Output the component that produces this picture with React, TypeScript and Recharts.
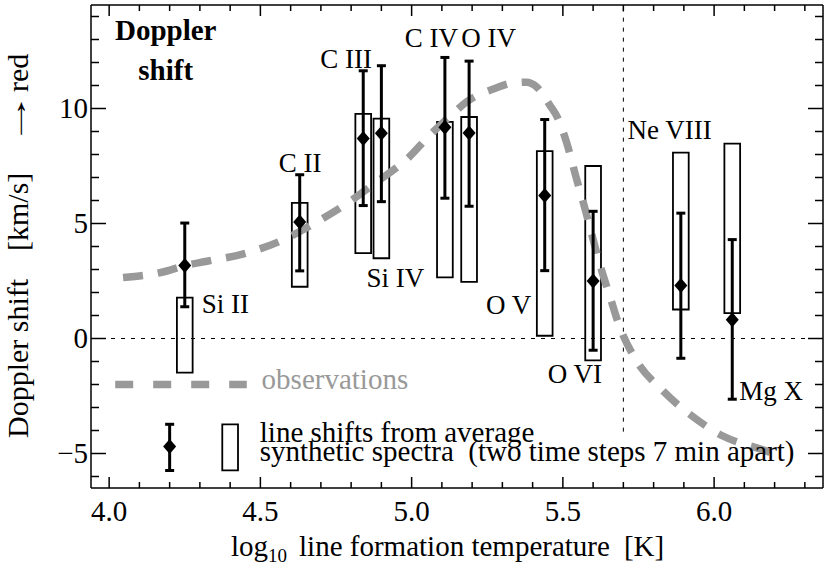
import React from 'react';
import {
  ComposedChart,
  XAxis,
  YAxis,
  Scatter,
  Line,
  ErrorBar,
  ReferenceArea,
  ReferenceLine,
} from 'recharts';

const FONT = '"Liberation Serif", "Times New Roman", Times, serif';

// ---- line data -------------------------------------------------------
const lineNames = ['Si II', 'C II', 'C III', 'Si IV', 'C IV', 'O IV', 'O V', 'O VI', 'Ne VIII', 'Mg X'];
const logT = [4.25, 4.63, 4.84, 4.9, 5.11, 5.19, 5.44, 5.6, 5.89, 6.06];
const shiftAvg = [3.17, 5.06, 8.7, 8.92, 9.18, 8.93, 6.22, 2.5, 2.3, 0.81];
const shiftLow = [1.38, 2.94, 5.78, 5.95, 6.1, 5.75, 2.95, -0.51, -0.86, -2.64];
const shiftHigh = [5.02, 7.12, 11.64, 11.86, 12.22, 12.06, 9.52, 5.53, 5.45, 4.3];
const synthLow = [-1.48, 2.25, 3.71, 3.49, 2.66, 2.46, 0.12, -0.95, 1.26, 1.1];
const synthHigh = [1.78, 5.9, 9.77, 9.56, 9.42, 9.63, 8.15, 7.5, 8.08, 8.47];

// label anchor (left / baseline) in data units
const labelT = [4.306, 4.561, 4.698, 4.851, 4.977, 5.164, 5.246, 5.45, 5.714, 6.083];
const labelV = [1.13, 7.24, 11.74, 2.25, 12.69, 12.69, 1.06, -1.92, 8.69, -2.67];

// ---- observations curve ---------------------------------------------
const obsT = [4.046, 4.174, 4.251, 4.323, 4.444, 4.565, 4.686, 4.785, 4.884, 4.983, 5.06, 5.137, 5.182, 5.275, 5.34, 5.38, 5.413, 5.457, 5.484, 5.512, 5.545, 5.572, 5.598, 5.625, 5.655, 5.688, 5.737, 5.831, 5.92, 6.029, 6.156, 6.19];
const obsV = [2.65, 2.88, 3.17, 3.36, 3.68, 4.23, 5.06, 5.86, 6.8, 7.78, 8.84, 9.78, 10.29, 10.87, 11.12, 11.14, 10.94, 10.14, 9.56, 8.54, 6.95, 5.7, 4.4, 3.1, 1.85, 0.5, -0.83, -2.28, -3.3, -4.24, -4.82, -4.97];

// ---- legend ----------------------------------------------------------
const legendObsT = [4.02, 4.455];
const legendObsV = [-2.0, -2.0];
const legendDiamond = { t: 4.2, v: -4.7, low: -5.74, high: -3.73 };
const legendBox = { t: 4.4, low: -5.73, high: -3.73 };
const legendTexts = ['observations', 'line shifts from average', 'synthetic spectra  (two time steps 7 min apart)'];
const legendTextT = [4.504, 4.498, 4.498];
const legendTextV = [-2.2, -4.5, -5.31];
const titleLines = ['Doppler', 'shift'];
const titleT = [4.187, 4.187];
const titleV = [12.98, 11.24];

// ---- axes ------------------------------------------------------------
const xDomain = [3.94, 6.36];
const yDomain = [-6.5, 14.5];
const xTicks = [4.0, 4.1, 4.2, 4.3, 4.4, 4.5, 4.6, 4.7, 4.8, 4.9, 5.0, 5.1, 5.2, 5.3, 5.4, 5.5, 5.6, 5.7, 5.8, 5.9, 6.0, 6.1, 6.2, 6.3];
const yTicks = [-6, -5, -4, -3, -2, -1, 0, 1, 2, 3, 4, 5, 6, 7, 8, 9, 10, 11, 12, 13, 14];
const transitionT = 5.7;
const transitionBottom = -4.05;

const BOX_HALF = 0.026;

const isMajor = (v: number, step: number) => Math.abs(v / step - Math.round(v / step)) < 1e-6;
const fmtY = (v: number) => (v < 0 ? '\u2212' + Math.abs(v) : String(v));

// ---- derived tables ---------------------------------------------------
const points = lineNames.map((n, i) => ({
  x: logT[i],
  y: shiftAvg[i],
  err: [shiftAvg[i] - shiftLow[i], shiftHigh[i] - shiftAvg[i]],
}));
const legendPoint = [
  {
    x: legendDiamond.t,
    y: legendDiamond.v,
    err: [legendDiamond.v - legendDiamond.low, legendDiamond.high - legendDiamond.v],
  },
];
const obsData = obsT.map((t, i) => ({ x: t, y: obsV[i] }));
const legendObsData = legendObsT.map((t, i) => ({ x: t, y: legendObsV[i] }));

const labels = [
  ...lineNames.map((n, i) => ({ x: labelT[i], y: labelV[i], text: n, kind: 'line' })),
  ...legendTexts.map((s, i) => ({ x: legendTextT[i], y: legendTextV[i], text: s, kind: i === 0 ? 'obs' : 'legend' })),
  ...titleLines.map((s, i) => ({ x: titleT[i], y: titleV[i], text: s, kind: 'title' })),
];

// ---- shapes ------------------------------------------------------------
const Diamond = (p: any) => {
  const { cx, cy } = p;
  if (cx == null || cy == null) return null;
  return (
    <polygon
      points={`${cx},${cy - 7.5} ${cx + 6.5},${cy} ${cx},${cy + 7.5} ${cx - 6.5},${cy}`}
      fill="#000"
    />
  );
};

const TextShape = (p: any) => {
  const d = p.payload;
  if (p.cx == null) return null;
  const isTitle = d.kind === 'title';
  const isLine = d.kind === 'line';
  return (
    <text
      x={p.cx}
      y={p.cy}
      textAnchor={isTitle ? 'middle' : 'start'}
      fontFamily={FONT}
      fontSize={isLine ? 27 : 29}
      fontWeight={isTitle ? 'bold' : 'normal'}
      fill={d.kind === 'obs' ? '#999999' : '#000'}
      style={{ whiteSpace: 'pre' }}
    >
      {d.text}
    </text>
  );
};

// ---- ticks -------------------------------------------------------------
const BottomTick = (p: any) => {
  const { x, y, payload } = p;
  const v = payload.value;
  const major = isMajor(v, 0.5);
  return (
    <g>
      <line x1={x} x2={x} y1={y} y2={y - (major ? 11 : 6)} stroke="#000" strokeWidth={1.5} />
      {major && (
        <text x={x} y={y + 33} textAnchor="middle" fontFamily={FONT} fontSize={29} fill="#000">
          {v.toFixed(1)}
        </text>
      )}
    </g>
  );
};

const TopTick = (p: any) => {
  const { x, y, payload } = p;
  const major = isMajor(payload.value, 0.5);
  return <line x1={x} x2={x} y1={y} y2={y + (major ? 11 : 6)} stroke="#000" strokeWidth={1.5} />;
};

const LeftTick = (p: any) => {
  const { x, y, payload } = p;
  const v = payload.value;
  const major = isMajor(v, 5);
  return (
    <g>
      <line x1={x} x2={x + (major ? 15 : 8)} y1={y} y2={y} stroke="#000" strokeWidth={1.5} />
      {major && (
        <text x={x - 3} y={y + 9.5} textAnchor="end" fontFamily={FONT} fontSize={29} fill="#000">
          {fmtY(v)}
        </text>
      )}
    </g>
  );
};

const RightTick = (p: any) => {
  const { x, y, payload } = p;
  const major = isMajor(payload.value, 5);
  return <line x1={x} x2={x - (major ? 15 : 8)} y1={y} y2={y} stroke="#000" strokeWidth={1.5} />;
};

// ---- axis titles -------------------------------------------------------
const XTitle = () => (
  <text x={231} y={556} textAnchor="start" fontFamily={FONT} fontSize={29} fill="#000">
    log
    <tspan fontSize={19} dy={6}>
      10
    </tspan>
    <tspan dy={-6} dx={12}>
      line formation temperature
    </tspan>
    <tspan dx={14}>[K]</tspan>
  </text>
);

const YTitle = () => (
  <g fontFamily={FONT} fontSize={30} fill="#000">
    <text transform="translate(28,438) rotate(-90)" textAnchor="start">
      Doppler shift
    </text>
    <text transform="translate(28,251) rotate(-90)" textAnchor="start">
      [km/s]
    </text>
    <text transform="translate(26,146) rotate(-90) scale(1.9,1)" textAnchor="start" fontSize={29}>
      {'\u2192'}
    </text>
    <text transform="translate(28,92) rotate(-90)" textAnchor="start">
      red
    </text>
  </g>
);

export default function App() {
  return (
    <div style={{ position: 'absolute', left: 0, top: 0, width: 830, height: 567, background: '#fff' }}>
      <ComposedChart width={830} height={567} margin={{ top: 0, right: 0, bottom: 0, left: 0 }}>
        <XAxis
          type="number"
          dataKey="x"
          domain={xDomain}
          ticks={xTicks}
          interval={0}
          allowDataOverflow
          height={79}
          tickSize={0}
          tickMargin={0}
          tickLine={false}
          axisLine={{ stroke: '#000', strokeWidth: 1.5 }}
          tick={(p: any) => <BottomTick {...p} />}
          label={<XTitle />}
        />
        <XAxis
          xAxisId="top"
          orientation="top"
          type="number"
          dataKey="x"
          domain={xDomain}
          ticks={xTicks}
          interval={0}
          allowDataOverflow
          height={5}
          tickSize={0}
          tickMargin={0}
          tickLine={false}
          axisLine={{ stroke: '#000', strokeWidth: 1.5 }}
          tick={(p: any) => <TopTick {...p} />}
        />
        <YAxis
          type="number"
          domain={yDomain}
          ticks={yTicks}
          interval={0}
          allowDataOverflow
          width={91}
          tickSize={0}
          tickMargin={0}
          tickLine={false}
          axisLine={{ stroke: '#000', strokeWidth: 1.5 }}
          tick={(p: any) => <LeftTick {...p} />}
          label={<YTitle />}
        />
        <YAxis
          yAxisId="right"
          orientation="right"
          type="number"
          domain={yDomain}
          ticks={yTicks}
          interval={0}
          allowDataOverflow
          width={7}
          tickSize={0}
          tickMargin={0}
          tickLine={false}
          axisLine={{ stroke: '#000', strokeWidth: 1.5 }}
          tick={(p: any) => <RightTick {...p} />}
        />

        <ReferenceLine y={0} stroke="#000" strokeWidth={1} strokeDasharray="4 6" />
        <ReferenceLine
          segment={[
            { x: transitionT, y: transitionBottom },
            { x: transitionT, y: yDomain[1] },
          ]}
          stroke="#000"
          strokeWidth={1}
          strokeDasharray="4 6"
        />

        <Line
          data={obsData}
          dataKey="y"
          type="monotone"
          stroke="#999999"
          strokeWidth={7.5}
          strokeDasharray="20 15"
          dot={false}
          activeDot={false}
          isAnimationActive={false}
        />
        <Line
          data={legendObsData}
          dataKey="y"
          type="linear"
          stroke="#999999"
          strokeWidth={7.5}
          strokeDasharray="18 20"
          dot={false}
          activeDot={false}
          isAnimationActive={false}
        />

        {logT.map((t, i) => (
          <ReferenceArea
            key={'box' + i}
            x1={t - BOX_HALF}
            x2={t + BOX_HALF}
            y1={synthLow[i]}
            y2={synthHigh[i]}
            fill="none"
            stroke="#000"
            strokeWidth={1.8}
            ifOverflow="visible"
          />
        ))}
        <ReferenceArea
          x1={legendBox.t - BOX_HALF}
          x2={legendBox.t + BOX_HALF}
          y1={legendBox.low}
          y2={legendBox.high}
          fill="none"
          stroke="#000"
          strokeWidth={1.8}
          ifOverflow="visible"
        />

        <Scatter data={points} dataKey="y" shape={Diamond} isAnimationActive={false}>
          <ErrorBar dataKey="err" direction="y" width={4.5} stroke="#000" strokeWidth={3} isAnimationActive={false} />
        </Scatter>
        <Scatter data={legendPoint} dataKey="y" shape={Diamond} isAnimationActive={false}>
          <ErrorBar dataKey="err" direction="y" width={4.5} stroke="#000" strokeWidth={3} isAnimationActive={false} />
        </Scatter>
        <Scatter data={labels} dataKey="y" shape={TextShape} isAnimationActive={false} />
      </ComposedChart>
    </div>
  );
}
